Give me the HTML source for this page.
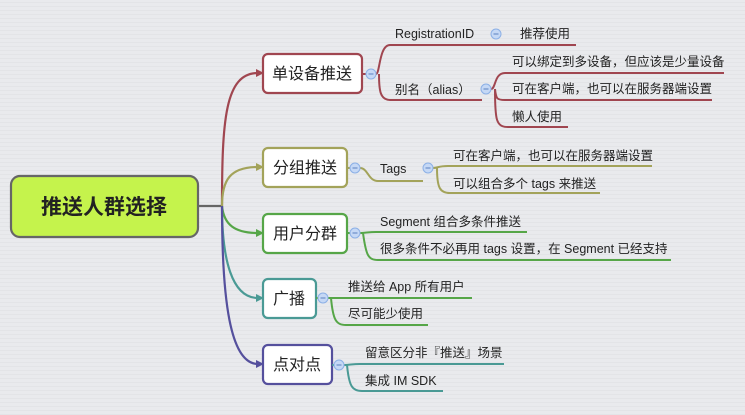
<!DOCTYPE html>
<html><head><meta charset="utf-8"><style>
html,body{margin:0;padding:0;width:745px;height:415px;overflow:hidden;background:#e9eaed;}
svg{display:block}
text{font-family:"Liberation Sans","Noto Sans CJK SC",sans-serif;fill:#222;}
</style></head><body>
<svg width="745" height="415" viewBox="0 0 745 415" xmlns="http://www.w3.org/2000/svg">
<defs>
<pattern id="st" width="4" height="4" patternUnits="userSpaceOnUse"><rect width="4" height="4" fill="#e9eaed"/><rect y="2" width="4" height="1" fill="#e3e4e7"/></pattern>
</defs>
<rect width="745" height="415" fill="url(#st)"/>
<g fill="none" stroke-width="2.2">
<path d="M198 206 H222" stroke="#666"/>
<path d="M222 206 C222 120 225 73 258 73" stroke="#a04650"/>
<path d="M222 206 C222 180 230 167 258 167" stroke="#a3a35a"/>
<path d="M222 206 C224 225 235 233 258 233" stroke="#56a648"/>
<path d="M222 206 C222 260 232 298 258 298" stroke="#4a9a95"/>
<path d="M222 206 C222 300 230 364 258 364" stroke="#55509d"/>
</g>
<g>
<path d="M264 73 l-8 -4 v8z" fill="#a04650"/>
<path d="M264 167 l-8 -4 v8z" fill="#a3a35a"/>
<path d="M264 233 l-8 -4 v8z" fill="#56a648"/>
<path d="M264 298 l-8 -4 v8z" fill="#4a9a95"/>
<path d="M264 364 l-8 -4 v8z" fill="#55509d"/>
</g>
<rect x="11" y="176" width="187" height="61" rx="9" fill="#c5f34c" stroke="#666" stroke-width="2.2"/>
<text x="104" y="214" font-size="21" font-weight="bold" text-anchor="middle">推送人群选择</text>
<g fill="#fff" stroke-width="2.2">
<rect x="263" y="54" width="99" height="39" rx="5" stroke="#a04650"/>
<rect x="263" y="148" width="84" height="39" rx="5" stroke="#a3a35a"/>
<rect x="263" y="214" width="84" height="39" rx="5" stroke="#56a648"/>
<rect x="263" y="279" width="53" height="39" rx="5" stroke="#4a9a95"/>
<rect x="263" y="345" width="69" height="39" rx="5" stroke="#55509d"/>
</g>
<g font-size="16">
<text x="312" y="79" text-anchor="middle">单设备推送</text>
<text x="305" y="173" text-anchor="middle">分组推送</text>
<text x="305" y="239" text-anchor="middle">用户分群</text>
<text x="289" y="304" text-anchor="middle">广播</text>
<text x="297" y="370" text-anchor="middle">点对点</text>
</g>
<g fill="none" stroke-width="2">
<path d="M362 74 H366 M376 74 C380 74 379 45 390 45 H576 M379 74 C379 90 380 100 390 100 H482" stroke="#a04650"/>
<path d="M491 89 C496 89 494 73 505 73 H724 M495 89 C496 99 497 100 505 100 H712 M495 89 C495 120 496 127 508 127 H568" stroke="#a04650"/>
<path d="M347 168 H350 M360 168 C368 168 368 181 378 181 H423 M433 168 C438 168 438 166 448 166 H652 M437 168 C437 188 440 193 450 193 H600" stroke="#a3a35a"/>
<path d="M347 233 H350 M360 233 C366 233 368 232 376 232 H527 M363 233 C366 255 368 260 378 260 H671" stroke="#56a648"/>
<path d="M316 298 H318 M328 298 C334 298 336 298 344 298 H472 M331 298 C333 320 336 325 346 325 H428" stroke="#56a648"/>
<path d="M332 365 H334 M344 365 C350 365 352 364 360 364 H504 M347 365 C349 386 352 391 362 391 H443" stroke="#4a9a95"/>
</g>
<g fill="#c5d8f5" stroke="#8cb0e6" stroke-width="1">
<circle cx="371" cy="74" r="5"/><circle cx="486" cy="89" r="5"/><circle cx="496" cy="34" r="5"/>
<circle cx="355" cy="168" r="5"/><circle cx="428" cy="168" r="5"/>
<circle cx="355" cy="233" r="5"/><circle cx="323" cy="298" r="5"/><circle cx="339" cy="365" r="5"/>
</g>
<g stroke="#5a7fc0" stroke-width="1">
<path d="M368.5 74h5M483.5 89h5M493.5 34h5M352.5 168h5M425.5 168h5M352.5 233h5M320.5 298h5M336.5 365h5"/>
</g>
<g font-size="12.5">
<text x="395" y="38">RegistrationID</text>
<text x="520" y="38">推荐使用</text>
<text x="395" y="94">别名（alias）</text>
<text x="512" y="66">可以绑定到多设备，但应该是少量设备</text>
<text x="512" y="93">可在客户端，也可以在服务器端设置</text>
<text x="512" y="121">懒人使用</text>
<text x="380" y="173">Tags</text>
<text x="453" y="160">可在客户端，也可以在服务器端设置</text>
<text x="453" y="188">可以组合多个 tags 来推送</text>
<text x="380" y="226">Segment 组合多条件推送</text>
<text x="380" y="253">很多条件不必再用 tags 设置，在 Segment 已经支持</text>
<text x="348" y="291">推送给 App 所有用户</text>
<text x="348" y="318">尽可能少使用</text>
<text x="365" y="357">留意区分非『推送』场景</text>
<text x="365" y="385">集成 IM SDK</text>
</g>
</svg>
</body></html>
